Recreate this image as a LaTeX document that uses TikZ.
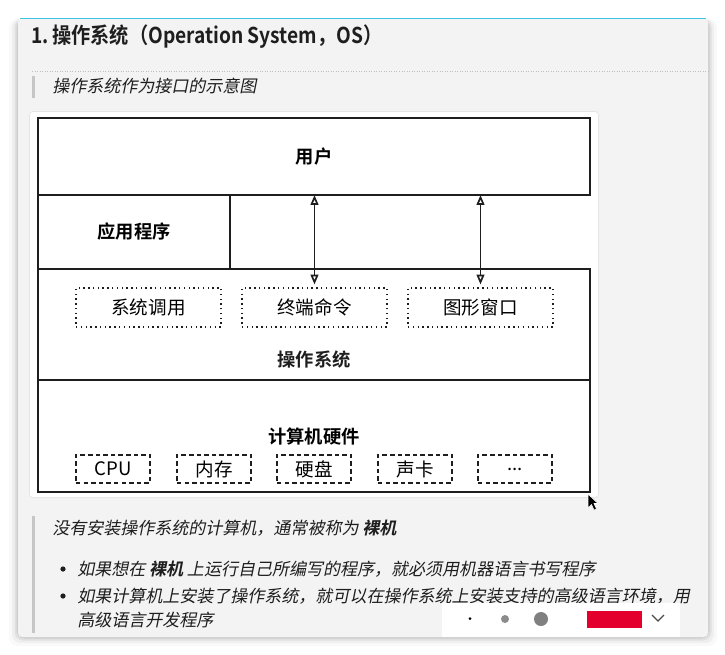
\documentclass[tikz,border=0pt]{standalone}
\usepackage{fontspec}
\setmainfont{Noto Sans CJK SC}[BoldFont={Noto Sans CJK SC Bold}]
\newfontfamily\itfont{Noto Sans CJK SC}[FakeSlant=0.2]
\newfontfamily\itboldfont{Noto Sans CJK SC Bold}[FakeSlant=0.2]
\newfontfamily\titlefont{Noto Sans CJK SC Bold}[FakeStretch=0.88]
\usetikzlibrary{arrows.meta}
\definecolor{cardbg}{HTML}{F3F3F3}
\definecolor{topline}{HTML}{3EC3E3}
\definecolor{quotebar}{HTML}{C6C6C6}
\definecolor{ink}{HTML}{1E1E1E}
\definecolor{btnred}{HTML}{E3002C}
\newcommand{\moredots}{...}
\tikzset{
  layer/.style={draw=ink,line width=1pt,fill=white,inner sep=0pt,outer sep=0pt,font=\fontsize{13}{15}\selectfont\bfseries},
  svc/.style={draw=ink,line width=1pt,dash pattern=on 1pt off 2.4pt,inner sep=0pt,font=\fontsize{13.2}{15}\selectfont,minimum width=3.625cm,minimum height=.975cm},
  dev/.style={draw=ink,line width=1pt,dash pattern=on 3.2pt off 2.2pt,inner sep=0pt,font=\fontsize{13.2}{15}\selectfont,minimum width=1.85cm,minimum height=.7cm},
  body/.style={anchor=west,inner sep=0pt,text=ink,font=\fontsize{12.1}{15}\selectfont\itfont},
  link/.style={draw=ink,line width=1.2pt,{Triangle[open,length=7pt,width=5.5pt]}-{Triangle[open,length=7pt,width=5.5pt]}},
}
\begin{document}
\begin{tikzpicture}[x=0.025cm,y=-0.025cm]
\useasboundingbox[fill=white] (0,0) rectangle (725,654);
% card with soft shadow
\foreach \s/\o in {9/.025,6/.04,3.5/.06,1.5/.08}
  \fill[black,opacity=\o,rounded corners=6pt] (18-\s,19) rectangle (708+\s,637+\s);
\fill[cardbg,rounded corners=3pt] (18,18) rectangle (708,637);
\draw[topline,line width=1.2pt] (20,18.5) -- (706,18.5);
% heading
\node[anchor=west,inner sep=0pt,text=ink,font=\fontsize{15.5}{18}\selectfont\titlefont] (title) at (31,37) {1.\,操作系统（Operation System，OS）};
\draw[black!25,line width=.6pt,dash pattern=on .6pt off 1.2pt] (32,71) -- (708,71);
\fill[quotebar] (32,76) rectangle (35,98);
\node[body] (caption) at (52,86) {操作系统作为接口的示意图};
% diagram panel
\fill[black,opacity=.06,rounded corners=3pt] (29,111) rectangle (599,498);
\fill[white,rounded corners=2pt] (30,112) rectangle (598,497);
\node[layer,minimum width=13.8cm,minimum height=1.925cm] (user) at (314,156.5) {用户};
\node[layer,minimum width=4.8cm,minimum height=1.85cm] (app) at (134,232) {应用程序};
\node[layer,minimum width=13.8cm,minimum height=2.775cm] (os) at (314,324.5) {};
\node[layer,minimum width=13.8cm,minimum height=2.8cm] (hw) at (314,436) {计算机硬件};
\node[inner sep=0pt,text=ink,font=\fontsize{13}{15}\selectfont\bfseries] (oslabel) at (314,360) {操作系统};
\node[svc] (syscall) at (148.5,307.5) {系统调用};
\node[svc] (term) at (314.5,307.5) {终端命令};
\node[svc] (gui) at (480.5,307.5) {图形窗口};
\foreach \x/\n/\t in {113/cpu/CPU,214/mem/内存,314/disk/硬盘,415/sound/声卡,515/more/\moredots}
  \node[dev] (\n) at (\x,469) {\t};
\draw[link] (term.north |- user.south) -- ([yshift=2pt]term.north);
\draw[link] (gui.north |- user.south) -- ([yshift=2pt]gui.north);
% pointer
\filldraw[black,draw=white,line width=.4pt] (588,494) -- (588,508) -- (591.5,504.5) -- (594,510) -- (596.5,509) -- (594,503.5) -- (598,503.5) -- cycle;
% notes below
\fill[quotebar] (32,516) rectangle (35,633);
\node[body] (note) at (52,528) {没有安装操作系统的计算机，通常被称为 {\itboldfont 裸机}};
\fill[ink] (63,569) circle (2.6);
\fill[ink] (63,596) circle (2.6);
\node[body] (first) at (77,569) {如果想在 {\itboldfont 裸机} 上运行自己所编写的程序，就必须用机器语言书写程序};
\node[body] (second) at (77,596) {如果计算机上安装了操作系统，就可以在操作系统上安装支持的高级语言环境，用};
\node[body] (third) at (77,620) {高级语言开发程序};
% toolbar
\fill[white] (442,603) rectangle (680,637);
\fill[black] (470,618.5) circle (1.5);
\fill[black!45] (505,619) circle (4);
\fill[black!50] (541,619) circle (7);
\fill[btnred] (587,611) rectangle (642,628);
\draw[black!70,line width=.8pt] (652,615) -- (658,621) -- (664,615);
\end{tikzpicture}
\end{document}
